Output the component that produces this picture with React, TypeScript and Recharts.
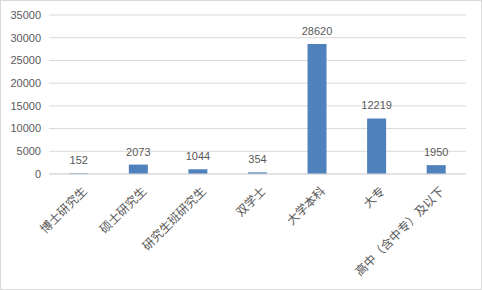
import React from 'react'
import { BarChart, Bar, XAxis, YAxis, CartesianGrid, LabelList } from 'recharts'

const categories = ['博士研究生', '硕士研究生', '研究生班研究生', '双学士', '大学本科', '大专', '高中（含中专）及以下']
const counts = [152, 2073, 1044, 354, 28620, 12219, 1950]
const yTicks = [0, 5000, 10000, 15000, 20000, 25000, 30000, 35000]

const data = categories.map((name, i) => ({ name, value: counts[i] }))

const textColor = '#595959'
const gridColor = '#d9d9d9'

function AngledTick(props: any) {
  const { x, y, payload } = props
  const tx = x + 5
  const ty = y + 6
  return (
    <text
      x={tx}
      y={ty}
      transform={`rotate(-45, ${tx}, ${ty})`}
      textAnchor="end"
      dominantBaseline="central"
      fill={textColor}
      fontSize={12}
      fontFamily="'Noto Sans CJK SC', sans-serif"
    >
      {payload.value}
    </text>
  )
}

export default function App() {
  return (
    <div style={{ position: 'absolute', left: 0, top: 0, width: 482, height: 290, boxSizing: 'border-box', border: '1px solid #d9d9d9', background: '#fff' }}>
      <BarChart
        width={480}
        height={288}
        data={data}
        margin={{ top: 14, right: 15, left: -1, bottom: 0 }}
        barCategoryGap="34%"
      >
        <CartesianGrid vertical={false} stroke={gridColor} />
        <XAxis
          dataKey="name"
          interval={0}
          height={115}
          tickLine={false}
          axisLine={{ stroke: gridColor }}
          tick={<AngledTick />}
        />
        <YAxis
          width={49}
          domain={[0, 35000]}
          ticks={yTicks}
          interval={0}
          tickLine={false}
          axisLine={false}
          tick={{ fill: textColor, fontSize: 11, fontFamily: "'Liberation Sans', Arial, sans-serif" }}
        />
        <Bar dataKey="value" fill="#4f81bd" isAnimationActive={false}>
          <LabelList
            dataKey="value"
            position="top"
            offset={9}
            fill={textColor}
            fontSize={11}
            fontFamily="'Liberation Sans', Arial, sans-serif"
          />
        </Bar>
      </BarChart>
    </div>
  )
}
